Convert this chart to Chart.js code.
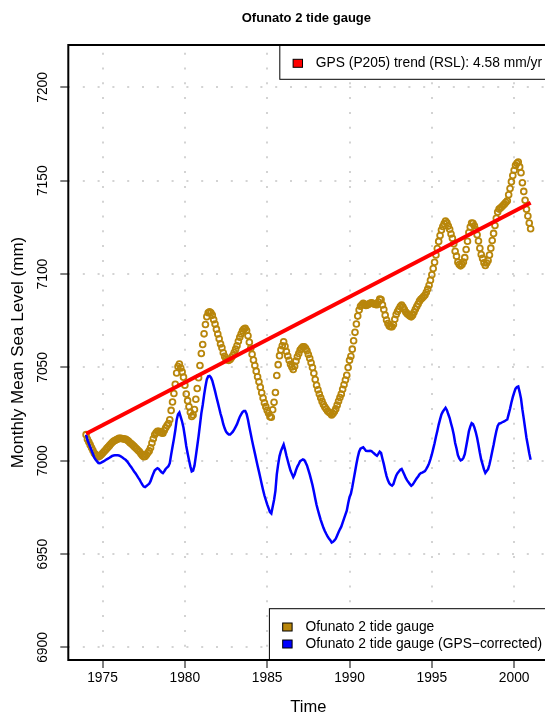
<!DOCTYPE html>
<html>
<head>
<meta charset="utf-8">
<title>Ofunato 2 tide gauge</title>
<script src="https://cdn.jsdelivr.net/npm/chart.js@4.4.0/dist/chart.umd.min.js"></script>
<style>
  html, body { margin: 0; padding: 0; overflow: hidden; background: #fff; }
  canvas { display: block; }
</style>
</head>
<body>
<canvas id="tideChart" width="616" height="720"></canvas>
<script>
// monthly means, first value is Jan 1974
const startYear = 1974;

const gaugeMonthly = [
  7014, 7011.5, 7010, 7008.5, 7007, 7005.5, 7004, 7003.3, 7002.7, 7002.2, 7002.5, 7003.2,
  7004, 7004.8, 7005.6, 7006.5, 7007.3, 7008.1, 7009, 7009.8, 7010.4, 7010.9, 7011.3, 7011.7,
  7012, 7012, 7011.9, 7011.8, 7011.6, 7011.5, 7011, 7010.4, 7009.7, 7009.1, 7008.4, 7007.7,
  7007, 7006.3, 7005.5, 7004.8, 7003.8, 7002.8, 7002.2, 7002.3, 7003.3, 7004.3, 7005.3, 7007,
  7009.5, 7011.8, 7013.9, 7015, 7015.8, 7015.8, 7015.3, 7014.9, 7014.8, 7016.2, 7017.7, 7018.9,
  7020, 7022, 7027, 7031.5, 7036, 7041, 7047, 7050.5, 7051.8, 7049.7, 7047.6, 7044.8,
  7040.5, 7035.8, 7032.2, 7029, 7026, 7023.7, 7024.5, 7027.5, 7033, 7038.7, 7044.5, 7051,
  7057.5, 7062.3, 7068, 7073, 7077.2, 7079.3, 7079.8, 7079.3, 7078, 7075.6, 7073.2, 7070.5,
  7067.9, 7065.3, 7062.6, 7060.5, 7057.8, 7055.9, 7054.5, 7054, 7053.8, 7054.2, 7055.3, 7056.4,
  7058, 7059.8, 7061.6, 7064, 7066.2, 7067.9, 7069.6, 7070.6, 7071, 7069.8, 7067, 7063.5,
  7060.3, 7057, 7054, 7051, 7048, 7045, 7042.3, 7039.4, 7036.4, 7033.6, 7031, 7029,
  7027.1, 7025.4, 7023.6, 7023.3, 7027.3, 7031.3, 7036.6, 7045.7, 7051.5, 7056.3, 7059.4, 7061.6,
  7063.7, 7061.3, 7058.5, 7056.1, 7053.8, 7051.7, 7050.3, 7048.9, 7050.7, 7053.4, 7055.7, 7057.5,
  7059.3, 7060.2, 7061, 7061.1, 7060.2, 7058.9, 7056.9, 7054.9, 7052.5, 7050, 7046.9, 7043.5,
  7040.4, 7038, 7035.8, 7033.7, 7031.8, 7030.1, 7028.8, 7027.7, 7026.7, 7026, 7025.4, 7024.5,
  7025.3, 7026.4, 7027.8, 7029.8, 7031.9, 7033.9, 7035.7, 7038.3, 7040.7, 7043.3, 7045.8, 7050,
  7053.8, 7056, 7059.8, 7064.3, 7068.8, 7073.3, 7077.5, 7080.8, 7082.8, 7083.6, 7084.3, 7083.8,
  7083.2, 7083.4, 7083.9, 7084.4, 7084.6, 7084.3, 7084, 7083.7, 7083.6, 7085, 7086.6, 7086.3,
  7083.5, 7081, 7078, 7075.4, 7073.5, 7072.2, 7071.8, 7071.8, 7073, 7075.8, 7078.3, 7080,
  7081.3, 7082.6, 7083.4, 7082.3, 7081, 7079.7, 7078.8, 7078.2, 7077.6, 7077.1, 7078, 7079.5,
  7081.1, 7082.6, 7084, 7085.5, 7086.5, 7087.2, 7088, 7088.8, 7090.3, 7092, 7094, 7096.7,
  7099.6, 7103, 7106.3, 7110.2, 7113.7, 7117.5, 7120.7, 7123.6, 7125.5, 7127, 7128.4, 7127.5,
  7125.7, 7124, 7121.5, 7119.2, 7116.2, 7112.2, 7109.6, 7106.4, 7105.1, 7104.4, 7105.2, 7106.5,
  7108.8, 7113.2, 7117.6, 7122.3, 7125.2, 7127.3, 7127.2, 7125.9, 7123.8, 7121.1, 7117.7, 7113.8,
  7110.5, 7108.4, 7106.1, 7104.6, 7105.9, 7107.3, 7110.2, 7113.9, 7118, 7121.8, 7126, 7129.9,
  7133.2, 7134.8, 7135.4, 7136.1, 7136.9, 7137.6, 7138.5, 7139.3, 7142.5, 7145.8, 7149.5, 7152.8,
  7155.6, 7158.2, 7159.3, 7160, 7157.4, 7154.3, 7148.9, 7144.3, 7139.5, 7134.7, 7131.1, 7127.3,
  7124.3,
];

const correctedMonthly = [
  7014, 7011.1, 7009.2, 7007.4, 7005.5, 7003.6, 7001.7, 7000.6, 6999.7, 6998.8, 6998.7, 6999.0,
  6999.4, 6999.8, 7000.3, 7000.8, 7001.2, 7001.6, 7002.1, 7002.6, 7002.8, 7002.9, 7002.9, 7002.9,
  7002.8, 7002.5, 7002.0, 7001.5, 7000.9, 7000.4, 6999.6, 6998.6, 6997.5, 6996.5, 6995.4, 6994.3,
  6993.3, 6992.2, 6991.0, 6989.9, 6988.5, 6987.2, 6986.2, 6985.9, 6986.5, 6987.1, 6987.7, 6989.1,
  6991.2, 6993.1, 6994.8, 6995.5, 6996.0, 6995.6, 6994.7, 6993.9, 6993.4, 6994.4, 6995.6, 6996.4,
  6997.1, 6998.7, 7003.3, 7007.5, 7011.6, 7016.2, 7021.8, 7024.9, 7025.9, 7023.4, 7020.9, 7017.7,
  7013.0, 7007.9, 7004.0, 7000.4, 6997.0, 6994.3, 6994.7, 6997.4, 7002.5, 7007.8, 7013.2, 7019.3,
  7025.4, 7029.9, 7035.2, 7039.8, 7043.6, 7045.3, 7045.5, 7044.6, 7042.9, 7040.1, 7037.3, 7034.2,
  7031.3, 7028.3, 7025.2, 7022.7, 7019.6, 7017.4, 7015.6, 7014.7, 7014.1, 7014.1, 7014.8, 7015.6,
  7016.8, 7018.2, 7019.6, 7021.6, 7023.5, 7024.8, 7026.1, 7026.7, 7026.7, 7025.1, 7022.0, 7018.1,
  7014.5, 7010.8, 7007.4, 7004.1, 7000.7, 6997.3, 6994.2, 6990.9, 6987.6, 6984.4, 6981.4, 6979.0,
  6976.7, 6974.6, 6972.5, 6971.8, 6975.4, 6979.0, 6983.9, 6992.7, 6998.1, 7002.5, 7005.2, 7007.0,
  7008.7, 7006.0, 7002.8, 7000.0, 6997.3, 6994.8, 6993.0, 6991.3, 6992.7, 6995.0, 6996.9, 6998.3,
  6999.8, 7000.3, 7000.7, 7000.4, 6999.1, 6997.5, 6995.1, 6992.7, 6989.9, 6987.0, 6983.5, 6979.8,
  6976.3, 6973.5, 6970.9, 6968.4, 6966.2, 6964.1, 6962.4, 6960.9, 6959.5, 6958.4, 6957.5, 6956.2,
  6956.6, 6957.3, 6958.3, 6960.0, 6961.7, 6963.3, 6964.7, 6966.9, 6969.0, 6971.2, 6973.3, 6977.1,
  6980.5, 6982.3, 6985.8, 6989.9, 6994.0, 6998.1, 7001.9, 7004.9, 7006.5, 7006.9, 7007.2, 7006.3,
  7005.3, 7005.2, 7005.3, 7005.4, 7005.2, 7004.5, 7003.9, 7003.2, 7002.7, 7003.7, 7004.9, 7004.2,
  7001.1, 6998.2, 6994.8, 6991.8, 6989.5, 6987.9, 6987.1, 6986.7, 6987.5, 6989.9, 6992.0, 6993.4,
  6994.3, 6995.2, 6995.6, 6994.1, 6992.5, 6990.8, 6989.5, 6988.5, 6987.5, 6986.6, 6987.2, 6988.3,
  6989.5, 6990.6, 6991.6, 6992.8, 6993.4, 6993.7, 6994.1, 6994.5, 6995.7, 6997.0, 6998.6, 7000.9,
  7003.4, 7006.4, 7009.4, 7012.9, 7016.0, 7019.4, 7022.2, 7024.8, 7026.3, 7027.4, 7028.4, 7027.1,
  7024.9, 7022.9, 7020.0, 7017.3, 7013.9, 7009.5, 7006.6, 7003.0, 7001.3, 7000.2, 7000.6, 7001.5,
  7003.5, 7007.5, 7011.5, 7015.8, 7018.3, 7020.1, 7019.6, 7017.9, 7015.4, 7012.3, 7008.5, 7004.3,
  7000.6, 6998.1, 6995.4, 6993.5, 6994.5, 6995.5, 6998.0, 7001.3, 7005.0, 7008.4, 7012.3, 7015.8,
  7018.7, 7019.9, 7020.1, 7020.5, 7020.9, 7021.2, 7021.7, 7022.1, 7025.0, 7027.9, 7031.2, 7034.1,
  7036.5, 7038.7, 7039.5, 7039.8, 7036.8, 7033.3, 7027.5, 7022.6, 7017.4, 7012.2, 7008.2, 7004.0,
  7000.6,
];

// GPS trend line end points
const trendYears = [1974.0, 2001.0];
const trendLevel = [7014.5, 7138.2];

const xTicks = [1975, 1980, 1985, 1990, 1995, 2000];
const yTicks = [6900, 6950, 7000, 7050, 7100, 7150, 7200];

const chartTitle = "Ofunato 2 tide gauge";
const seriesLabels = ["Ofunato 2 tide gauge", "Ofunato 2 tide gauge (GPS\u2212corrected)"];
const trendLabel = "GPS (P205) trend (RSL): 4.58 mm/yr";

const gaugeColor = "#B8860B";
const correctedColor = "#0000FF";
const trendColor = "#FF0000";
const fontFamily = '"Liberation Sans", Arial, Helvetica, sans-serif';

const gaugePoints = gaugeMonthly.map((v, i) => ({ x: startYear + i / 12, y: v }));
const correctedPoints = correctedMonthly.map((v, i) => ({ x: startYear + i / 12, y: v }));
const trendPoints = trendYears.map((x, i) => ({ x: x, y: trendLevel[i] }));

function drawLegend(ctx, right, edge, rows, fromBottom) {
  const rowH = 17;
  const textW = Math.max(...rows.map((r) => ctx.measureText(r[0]).width));
  const w = textW + 42.4;
  const h = rows.length * rowH + 17.3;
  const left = right - w;
  const top = fromBottom ? edge - h : edge;
  ctx.fillStyle = "#fff";
  ctx.fillRect(left, top, w, h);
  ctx.lineWidth = 1;
  ctx.strokeStyle = "#000";
  ctx.strokeRect(left, top, w, h);
  ctx.textBaseline = "middle";
  rows.forEach((r, i) => {
    const cy = top + 18.3 + i * rowH;
    ctx.fillStyle = r[1];
    ctx.fillRect(left + 13.3, cy - 4, 9.4, 8);
    ctx.strokeRect(left + 13.3, cy - 4, 9.4, 8);
    ctx.fillStyle = "#000";
    ctx.fillText(r[0], left + 36, cy);
  });
}

// title, legends and the box round the plot, drawn last like R does
const plotFrame = {
  id: "plotFrame",
  afterDraw(chart) {
    const { ctx, chartArea: a } = chart;
    ctx.save();
    ctx.fillStyle = "#000";
    ctx.textAlign = "center";
    ctx.textBaseline = "middle";
    ctx.font = "bold 13px " + fontFamily;
    ctx.fillText(chartTitle, (a.left + a.right) / 2 - 2, 18);
    ctx.textAlign = "left";
    ctx.font = "13.8px " + fontFamily;
    drawLegend(ctx, a.right, a.top, [[trendLabel, trendColor]], false);
    drawLegend(ctx, a.right, a.bottom, [[seriesLabels[0], gaugeColor], [seriesLabels[1], correctedColor]], true);
    ctx.lineWidth = 2;
    ctx.strokeStyle = "#000";
    ctx.strokeRect(a.left, a.top, a.right - a.left, a.bottom - a.top);
    ctx.restore();
  },
};

const gridOpts = {
  color: "#D3D3D3",
  lineWidth: 2,
  drawTicks: true,
  tickLength: 8,
  tickWidth: 1,
  tickColor: "#000",
  tickBorderDash: [],
};

new Chart(document.getElementById("tideChart"), {
  type: "scatter",
  data: {
    datasets: [
      {
        label: trendLabel,
        data: trendPoints,
        showLine: true,
        borderColor: trendColor,
        borderWidth: 4,
        pointRadius: 0,
      },
      {
        label: seriesLabels[1],
        data: correctedPoints,
        showLine: true,
        borderColor: correctedColor,
        borderWidth: 2.5,
        pointRadius: 0,
        tension: 0,
      },
      {
        label: seriesLabels[0],
        data: gaugePoints,
        showLine: false,
        borderColor: gaugeColor,
        backgroundColor: "rgba(0,0,0,0)",
        pointRadius: 2.9,
        pointBorderWidth: 1.8,
      },
    ],
  },
  options: {
    responsive: false,
    animation: false,
    devicePixelRatio: 1,
    events: [],
    layout: { padding: { left: 0, top: 45, right: 67.6, bottom: 0 } },
    plugins: {
      legend: { display: false },
      tooltip: { enabled: false },
      title: { display: false },
    },
    scales: {
      x: {
        type: "linear",
        min: 1972.92,
        max: 2002.08,
        afterBuildTicks: (s) => { s.ticks = xTicks.map((v) => ({ value: v })); },
        afterFit: (s) => { s.height = 60; },
        ticks: {
          autoSkip: false,
          maxRotation: 0,
          padding: 1.5,
          color: "#000",
          font: { family: fontFamily, size: 13.8 },
          callback: (v) => String(v),
        },
        grid: gridOpts,
        border: { display: false, dash: [2, 12.8], dashOffset: 7.1 },
        title: {
          display: true,
          text: "Time",
          color: "#000",
          font: { family: fontFamily, size: 16.5 },
          padding: { top: 0, bottom: 3.1 },
        },
      },
      y: {
        type: "linear",
        min: 6893.3,
        max: 7222.7,
        afterBuildTicks: (s) => { s.ticks = yTicks.map((v) => ({ value: v })); },
        afterFit: (s) => { s.width = 68.3; },
        ticks: {
          autoSkip: false,
          minRotation: 90,
          maxRotation: 90,
          crossAlign: "center",
          padding: 1.5,
          color: "#000",
          font: { family: fontFamily, size: 13.8 },
          callback: (v) => String(v),
        },
        grid: gridOpts,
        border: { display: false, dash: [2, 12.8], dashOffset: 0 },
        title: {
          display: true,
          text: "Monthly Mean Sea Level (mm)",
          color: "#000",
          font: { family: fontFamily, size: 17 },
          padding: { top: 7.8, bottom: 0 },
        },
      },
    },
  },
  plugins: [plotFrame],
});
</script>
</body>
</html>
